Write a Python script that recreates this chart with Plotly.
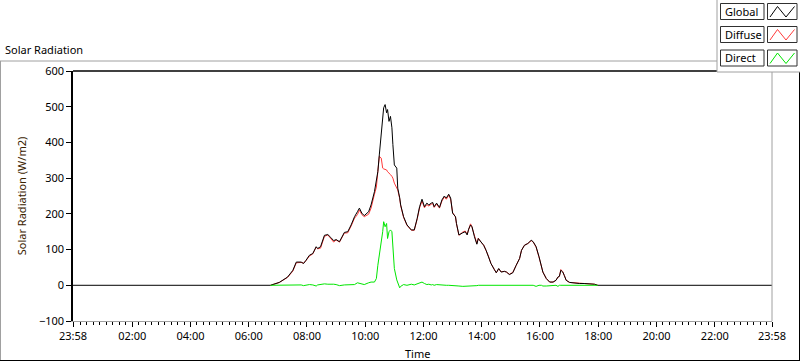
import plotly.graph_objects as go

# ---------------- data ----------------
day = "2024-01-02"
prev_day = "2024-01-01"

times = ["06:45", "07:03", "07:20", "07:31", "07:38", "07:48", "07:53", "07:58", "08:05", "08:12",
         "08:19", "08:22", "08:28", "08:36", "08:43", "08:49", "08:55", "09:00", "09:07", "09:17",
         "09:24", "09:31", "09:38", "09:44", "09:48", "09:53", "09:58", "10:07", "10:12", "10:19",
         "10:23", "10:26", "10:29", "10:33", "10:36", "10:38", "10:41", "10:44", "10:46", "10:49",
         "10:52", "10:55", "10:57", "11:00", "11:05", "11:07", "11:11", "11:13", "11:19", "11:26",
         "11:35", "11:41", "11:47", "11:52", "11:57", "12:02", "12:07", "12:11", "12:16", "12:19",
         "12:22", "12:27", "12:33", "12:38", "12:43", "12:47", "12:52", "12:56", "13:00", "13:06",
         "13:08", "13:13", "13:21", "13:26", "13:30", "13:33", "13:37", "13:40", "13:45", "13:50",
         "13:53", "13:58", "14:04", "14:09", "14:14", "14:19", "14:26", "14:30", "14:35", "14:40",
         "14:47", "14:51", "14:57", "15:04", "15:11", "15:18", "15:22", "15:28", "15:35", "15:42",
         "15:46", "15:52", "15:58", "16:03", "16:06", "16:13", "16:20", "16:27", "16:33", "16:37",
         "16:40", "16:43", "16:47", "16:50", "16:54", "17:01", "17:11", "17:21", "17:31", "17:42",
         "17:52", "17:59"]

global_vals = [0, 8, 23, 42, 65, 65, 61, 70, 84, 89,
               108, 103, 108, 140, 142, 134, 125, 128, 122, 148,
               150, 169, 192, 206, 216, 202, 195, 206, 225, 262,
               290, 318, 365, 422, 455, 497, 506, 483, 492, 459,
               473, 441, 394, 337, 328, 272, 245, 225, 192, 169,
               155, 155, 187, 220, 241, 220, 230, 225, 230, 232,
               220, 230, 218, 239, 250, 244, 255, 244, 202, 192,
               173, 141, 147, 150, 141, 157, 169, 164, 136, 115,
               131, 122, 112, 98, 80, 61, 44, 35, 47, 37,
               39, 37, 30, 35, 56, 75, 98, 112, 117, 126,
               122, 108, 80, 56, 37, 19, 9, 9, 14, 23,
               25, 42, 37, 28, 14, 8, 6, 5, 5, 5,
               3, 0]

diffuse_vals = [0, 8, 22, 40, 63, 64, 62, 69, 82, 88,
                107, 102, 104, 137, 141, 130, 121, 127, 121, 146,
                147, 166, 188, 198, 211, 198, 192, 199, 216, 255,
                275, 318, 361, 356, 328, 326, 324, 323, 318, 315,
                310, 305, 300, 286, 272, 267, 243, 223, 190, 168,
                154, 154, 185, 217, 236, 217, 226, 222, 227, 229,
                218, 227, 216, 236, 247, 241, 252, 241, 204, 191,
                172, 140, 149, 152, 143, 157, 172, 162, 137, 117,
                132, 121, 113, 98, 81, 61, 45, 35, 46, 38,
                39, 37, 31, 36, 56, 75, 98, 112, 117, 125,
                121, 107, 79, 55, 37, 19, 9, 9, 14, 23,
                25, 44, 38, 28, 14, 8, 6, 6, 5, 5,
                3, 0]

direct_vals = [0, 0, 1, 2, 2, 1, -1, 1, 2, 1,
               -2, 1, 3, 4, 3, 4, 3, 2, -1, 1,
               2, 1, 2, 7, 5, 3, 2, 7, 9, 9,
               19, 56, 84, 110, 150, 178, 164, 173, 131, 150,
               155, 150, 94, 47, 15, 9, -7, -3, 2, 0,
               3, 1, 4, 7, 9, 5, 2, 3, 1, 2,
               0, 2, 1, 1, 0, 0, 0, 0, -1, -2,
               -2, -2, -3, -3, -3, -2, -2, -2, -1, -1,
               0, 0, 0, 0, 0, 0, 0, 0, 0, 0,
               0, 0, 2, 2, 1, 1, 0, 0, 0, 0,
               0, -3, 0, 0, -2, -2, -2, 0, 0, -3,
               0, 0, 0, 0, 0, 0, 0, 0, 0, 0,
               0, 0]

# night-time global samples (zero radiation)
night_start_time = [prev_day + " 23:58", day + " 06:44"]
night_end_time = [day + " 18:00", day + " 23:58"]
night_vals = [0, 0]

tick_labels = ["23:58", "02:00", "04:00", "06:00", "08:00", "10:00", "12:00",
               "14:00", "16:00", "18:00", "20:00", "22:00", "23:58"]
tick_times = [prev_day + " 23:58"] + [day + " " + t for t in tick_labels[1:-1]] + [day + " 23:58"]

y_ticks = [-100, 0, 100, 200, 300, 400, 500, 600]

# ---------------- figure ----------------
W, H = 800, 361
ML, MR, MT, MB = 73, 28, 71, 40
PW, PH = W - ML - MR, H - MT - MB

def px(x):
    return (x - ML) / PW

def py(y):
    return (H - MB - y) / PH

day_x = [day + " " + t for t in times]
FONT = "Noto Sans"
FS = 11

fig = go.Figure()
fig.add_trace(go.Scatter(x=day_x, y=diffuse_vals, mode="lines",
                         line=dict(color="#ff3a3a", width=1), name="Diffuse"))
fig.add_trace(go.Scatter(x=night_start_time + day_x + night_end_time,
                         y=night_vals + global_vals + night_vals, mode="lines",
                         line=dict(color="#000000", width=1), name="Global"))
fig.add_trace(go.Scatter(x=day_x, y=direct_vals, mode="lines",
                         line=dict(color="#00e600", width=1), name="Direct"))

shapes = []
# plot area borders
shapes.append(dict(type="line", xref="paper", yref="paper", x0=0, x1=1, y0=1, y1=1,
                   line=dict(color="#000000", width=1.5)))
shapes.append(dict(type="line", xref="paper", yref="paper", x0=1, x1=1, y0=0, y1=1,
                   line=dict(color="#a0a0a0", width=1)))
# outer frame
shapes.append(dict(type="line", xref="paper", yref="paper", x0=px(0), x1=px(717), y0=py(61), y1=py(61),
                   line=dict(color="#a0a0a0", width=1)))
shapes.append(dict(type="line", xref="paper", yref="paper", x0=px(0.5), x1=px(0.5), y0=py(61), y1=py(361),
                   line=dict(color="#a0a0a0", width=1)))
shapes.append(dict(type="line", xref="paper", yref="paper", x0=px(0), x1=px(800), y0=py(360.5), y1=py(360.5),
                   line=dict(color="#000000", width=1)))
shapes.append(dict(type="line", xref="paper", yref="paper", x0=px(799.5), x1=px(799.5), y0=py(72), y1=py(361),
                   line=dict(color="#000000", width=1)))
# legend box
shapes.append(dict(type="rect", xref="paper", yref="paper", x0=px(717), x1=px(801), y0=py(72), y1=py(-1),
                   line=dict(color="#a0a0a0", width=1), fillcolor="#ffffff", layer="above"))

legend_names = ["Global", "Diffuse", "Direct"]
legend_colors = ["#000000", "#ff3a3a", "#00e600"]
row_tops = [3.5, 26.5, 50]
annotations = []
for name, col, top in zip(legend_names, legend_colors, row_tops):
    bot = top + 16
    shapes.append(dict(type="rect", xref="paper", yref="paper", x0=px(720.5), x1=px(764), y0=py(bot), y1=py(top),
                       line=dict(color="#303030", width=1), fillcolor="#ffffff", layer="above"))
    shapes.append(dict(type="rect", xref="paper", yref="paper", x0=px(767.5), x1=px(797), y0=py(bot), y1=py(top),
                       line=dict(color="#303030", width=1), fillcolor="#ffffff", layer="above"))
    zx = [770, 777.5, 786, 794.5]
    zy = [bot - 2.5, top + 3, bot - 2.5, top + 3]
    path = "M {} {}".format(px(zx[0]), py(zy[0]))
    for a, b in zip(zx[1:], zy[1:]):
        path += " L {} {}".format(px(a), py(b))
    shapes.append(dict(type="path", xref="paper", yref="paper", path=path,
                       line=dict(color=col, width=1), layer="above"))
    annotations.append(dict(xref="paper", yref="paper", x=px(722.5), y=py((top + bot) / 2),
                            text=name, showarrow=False, xanchor="left", yanchor="middle",
                            font=dict(family=FONT, size=FS, color="#000000")))

annotations.append(dict(xref="paper", yref="paper", x=px(3), y=py(50), text="Solar Radiation",
                        showarrow=False, xanchor="left", yanchor="middle",
                        font=dict(family=FONT, size=FS, color="#000000")))
annotations.append(dict(xref="paper", yref="paper", x=px(417), y=py(353), text="Time",
                        showarrow=False, xanchor="center", yanchor="middle",
                        font=dict(family=FONT, size=FS, color="#000000")))

fig.update_layout(
    width=W, height=H,
    margin=dict(l=ML, r=MR, t=MT, b=MB),
    paper_bgcolor="#ffffff", plot_bgcolor="#ffffff",
    showlegend=False,
    shapes=shapes, annotations=annotations,
    font=dict(family=FONT, size=FS, color="#000000"),
    xaxis=dict(type="date", range=[prev_day + " 23:58", day + " 23:58"],
               tickvals=tick_times, ticktext=tick_labels, tickmode="array",
               ticks="outside", ticklen=5, tickwidth=1, tickcolor="#000000",
               showgrid=False, zeroline=False,
               showline=True, linecolor="#a0a0a0", linewidth=1,
               tickfont=dict(family=FONT, size=FS, color="#000000"),
               minor=dict(ticks="outside", ticklen=3, tickcolor="#000000",
                          dtick=800000, tick0=day + " 02:00", showgrid=False)),
    yaxis=dict(range=[-100, 600], tickvals=y_ticks, tickmode="array",
               ticks="outside", ticklen=5, tickwidth=1, tickcolor="#000000",
               showgrid=False, zeroline=False,
               showline=True, linecolor="#000000", linewidth=1.5,
               tickfont=dict(family=FONT, size=FS, color="#000000"),
               title=dict(text="Solar Radiation (W/m2)", standoff=10,
                          font=dict(family=FONT, size=FS, color="#3a2200"))),
)

fig.write_html("out.html", config={"displayModeBar": False},
               post_script="document.body.style.margin='0';document.body.style.padding='0';")
